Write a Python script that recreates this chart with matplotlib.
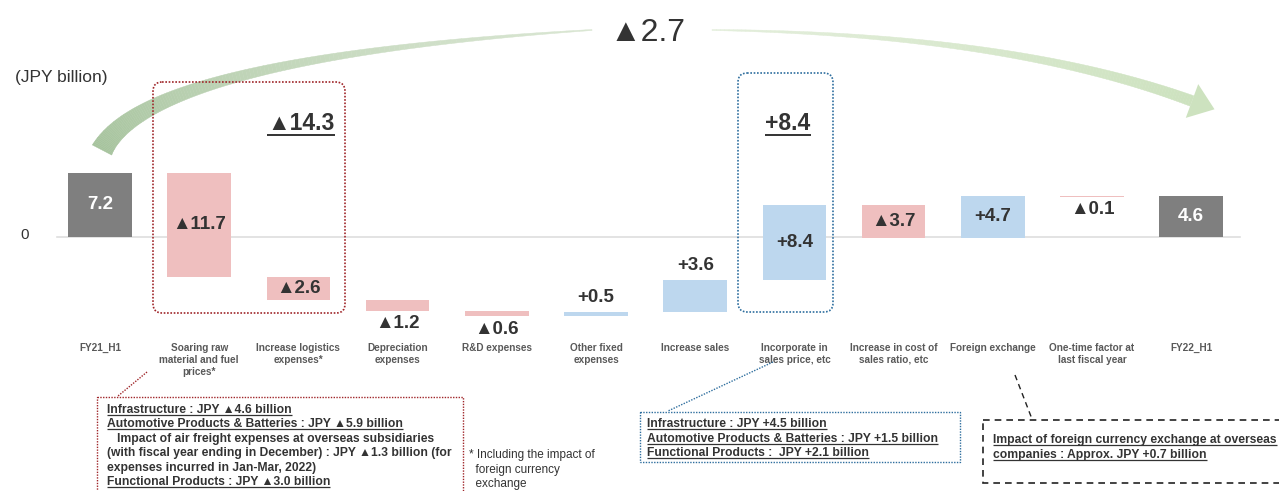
import numpy as np
import matplotlib
matplotlib.use("Agg")
import matplotlib.pyplot as plt
from matplotlib.patches import FancyBboxPatch, Rectangle, Polygon
from matplotlib.collections import PolyCollection

plt.rcParams['font.family'] = ['Liberation Sans', 'DejaVu Sans']

# ---------------- data ----------------
categories = ["FY21_H1", "Soaring raw\nmaterial and fuel\nprices*", "Increase logistics\nexpenses*",
              "Depreciation\nexpenses", "R&D expenses", "Other fixed\nexpenses", "Increase sales",
              "Incorporate in\nsales price, etc", "Increase in cost of\nsales ratio, etc",
              "Foreign exchange", "One-time factor at\nlast fiscal year", "FY22_H1"]
values = [7.2, -11.7, -2.6, -1.2, -0.6, 0.5, 3.6, 8.4, -3.7, 4.7, -0.1, 4.6]
is_total = [True, False, False, False, False, False, False, False, False, False, False, True]
value_labels = ["7.2", "▲11.7", "▲2.6", "▲1.2", "▲0.6", "+0.5", "+3.6", "+8.4", "▲3.7", "+4.7", "▲0.1", "4.6"]
label_place = ["in", "in", "in", "below", "below", "above", "above", "in", "in", "in", "below", "in"]

group_totals = ["▲14.3", "+8.4"]
overall_change = "▲2.7"
unit_label = "(JPY billion)"
zero_label = "0"

red_notes = ["Infrastructure : JPY ▲4.6 billion",
             "Automotive Products & Batteries : JPY ▲5.9 billion",
             "   Impact of air freight expenses at overseas subsidiaries",
             "(with fiscal year ending in December) : JPY ▲1.3 billion (for",
             "expenses incurred in Jan-Mar, 2022)",
             "Functional Products : JPY ▲3.0 billion"]
red_underlined = [True, True, False, False, False, True]
blue_notes = ["Infrastructure : JPY +4.5 billion",
              "Automotive Products & Batteries : JPY +1.5 billion",
              "Functional Products :  JPY +2.1 billion"]
fx_notes = ["Impact of foreign currency exchange at overseas",
            "companies : Approx. JPY +0.7 billion"]
footnote = ["* Including the impact of", "  foreign currency", "  exchange"]

# ---------------- colours ----------------
C_TOTAL = "#7f7f7f"
C_NEG = "#efbfbf"
C_POS = "#bdd7ee"
C_TXT = "#333333"
C_CAT = "#595959"

W, H = 1279, 491
fig = plt.figure(figsize=(W / 100, H / 100), dpi=100)

# main axes: category centres at pixel 100 + 99.2*i, zero at pixel row 237, 8.9 px / unit
ax = fig.add_axes([0, 0, 1, 1])
step, x0px = 99.2, 100.0
ax.set_xlim(-x0px / step, (W - x0px) / step)
ppu, zero_row = 8.9, 237.0
ax.set_ylim(-(H - zero_row) / ppu, zero_row / ppu)
ax.axis('off')

# waterfall
bottoms, heights = [], []
running = 0.0
for v, t in zip(values, is_total):
    if t:
        bottoms.append(0.0)
        heights.append(v)
        running = v
    else:
        bottoms.append(running)
        heights.append(v)
        running += v
colors = [C_TOTAL if t else (C_POS if v > 0 else C_NEG) for v, t in zip(values, is_total)]
xs = np.arange(len(values))
ax.bar(xs, heights, bottom=bottoms, width=0.64, color=colors, zorder=3)
ax.axhline(0, xmin=57 / W, xmax=1240 / W, color="#dedede", lw=1.2, zorder=1)
ax.text(-0.76, 0.2, zero_label, ha='center', va='center', fontsize=11, color=C_TXT)

for i, (lab, place) in enumerate(zip(value_labels, label_place)):
    b, h = bottoms[i], heights[i]
    lo, hi = min(b, b + h), max(b, b + h)
    col = "white" if is_total[i] else C_TXT
    if place == "in":
        ax.text(i, (lo + hi) / 2, lab, ha='center', va='center', fontsize=13.5,
                fontweight='bold', color=col, zorder=5)
    elif place == "below":
        ax.text(i, lo - 0.5, lab, ha='center', va='top', fontsize=13.5,
                fontweight='bold', color=col, zorder=5)
    else:
        ax.text(i, hi + 0.6, lab, ha='center', va='bottom', fontsize=13.5,
                fontweight='bold', color=col, zorder=5)

for i, lab in enumerate(categories):
    ax.text(i, -(343 - zero_row) / ppu, lab, ha='center', va='top', fontsize=7.2,
            fontweight='bold', color=C_CAT, linespacing=1.25)

# ---------------- overlay in pixel coords ----------------
ov = fig.add_axes([0, 0, 1, 1])
ov.set_xlim(0, W)
ov.set_ylim(H, 0)
ov.axis('off')
ov.patch.set_alpha(0)

renderer = fig.canvas.get_renderer()


def underline(t, lw=0.9, color=C_TXT, off=1.0):
    bb = t.get_window_extent(renderer=renderer)
    y = H - (bb.y0 + off)
    ov.plot([bb.x0, bb.x1], [y, y], color=color, lw=lw, solid_capstyle='butt')


def bez(p0, p1, p2, n=140):
    t = np.linspace(0, 1, n)[:, None]
    p0, p1, p2 = map(np.asarray, (p0, p1, p2))
    pts = (1 - t) ** 2 * p0 + 2 * (1 - t) * t * p1 + t ** 2 * p2
    d = 2 * (1 - t) * (p1 - p0) + 2 * t * (p2 - p1)
    d = d / np.linalg.norm(d, axis=1, keepdims=True)
    nrm = np.column_stack([-d[:, 1], d[:, 0]])
    return pts, nrm, d


def ribbon(p0, p1, p2, w0, w1, c0, c1, power=1.0):
    pts, nrm, d = bez(p0, p1, p2)
    n = len(pts)
    s = np.linspace(0, 1, n) ** power
    w = (w0 + (w1 - w0) * s)[:, None] / 2
    left, right = pts + nrm * w, pts - nrm * w
    polys, cols = [], []
    c0, c1 = np.array(matplotlib.colors.to_rgb(c0)), np.array(matplotlib.colors.to_rgb(c1))
    for k in range(n - 1):
        polys.append([left[k], left[k + 1], right[k + 1], right[k]])
        f = k / (n - 2)
        cols.append(c0 * (1 - f) + c1 * f)
    ov.add_collection(PolyCollection(polys, facecolors=cols, edgecolors=cols, linewidths=0.3, zorder=2))
    return pts, nrm, d


# left arc
ribbon((102, 150), (150, 58), (592, 30), 22, 1.0, "#a6c39d", "#d9e6d2", power=0.8)
# right arc with arrow head
pts, nrm, d = ribbon((712, 30), (1010, 34), (1192, 101), 1.0, 11, "#e3eedb", "#cde2bf")
tip = pts[-1] + d[-1] * 24
a = pts[-1] + nrm[-1] * 18
b = pts[-1] - nrm[-1] * 18
ov.add_patch(Polygon([tip, a, b], closed=True, facecolor="#cde2bf", edgecolor="none", zorder=2))

ov.text(648, 33, overall_change, ha='center', va='center', fontsize=23, color=C_TXT)
ov.text(15, 77, unit_label, ha='left', va='center', fontsize=12.5, color=C_TXT)

# group boxes
ov.add_patch(FancyBboxPatch((153, 82), 192, 231, boxstyle="round,pad=0,rounding_size=9",
                            fill=False, edgecolor="#a0262a", lw=1.2, ls=(0, (1, 1)), zorder=4))
ov.add_patch(FancyBboxPatch((738, 73), 95, 239, boxstyle="round,pad=0,rounding_size=9",
                            fill=False, edgecolor="#2e6e9e", lw=1.2, ls=(0, (1, 1)), zorder=4))
t1 = ov.text(301, 123, group_totals[0], ha='center', va='center', fontsize=16.5,
             fontweight='bold', color=C_TXT)
t2 = ov.text(788, 123, group_totals[1], ha='center', va='center', fontsize=16.5,
             fontweight='bold', color=C_TXT)
underline(t1, lw=1.4, off=0)
underline(t2, lw=1.4, off=0)

# connectors
ov.plot([147, 118], [372, 396], color="#a0262a", lw=1.0, ls=(0, (1, 1)))
ov.plot([773, 668], [362, 411], color="#2e6e9e", lw=1.0, ls=(0, (1, 1)))
ov.plot([1015, 1032], [375, 419], color="#222222", lw=1.0, ls=(0, (4, 3)))

# note boxes
ov.add_patch(Rectangle((97, 397), 366, 110, fill=False, edgecolor="#a0262a", lw=1.0, ls=(0, (1, 1))))
ov.add_patch(Rectangle((640, 412), 320, 50, fill=False, edgecolor="#2e6e9e", lw=1.0, ls=(0, (1, 1))))
ov.add_patch(Rectangle((983, 420), 300, 63, fill=False, edgecolor="#222222", lw=1.2, ls=(0, (4, 3))))

NOTE_FS = 8.7
for k, (line, u) in enumerate(zip(red_notes, red_underlined)):
    t = ov.text(107, 410 + k * 14.4, line, ha='left', va='center', fontsize=NOTE_FS,
                fontweight='bold', color=C_TXT)
    if u:
        underline(t)
for k, line in enumerate(blue_notes):
    t = ov.text(647, 424 + k * 14.5, line, ha='left', va='center', fontsize=NOTE_FS,
                fontweight='bold', color=C_TXT)
    underline(t)
for k, line in enumerate(fx_notes):
    t = ov.text(993, 440 + k * 15, line, ha='left', va='center', fontsize=NOTE_FS,
                fontweight='bold', color=C_TXT)
    underline(t)
for k, line in enumerate(footnote):
    ov.text(469, 455 + k * 14.5, line, ha='left', va='center', fontsize=8.5, color=C_TXT)

fig.savefig("out.png", dpi=100)
